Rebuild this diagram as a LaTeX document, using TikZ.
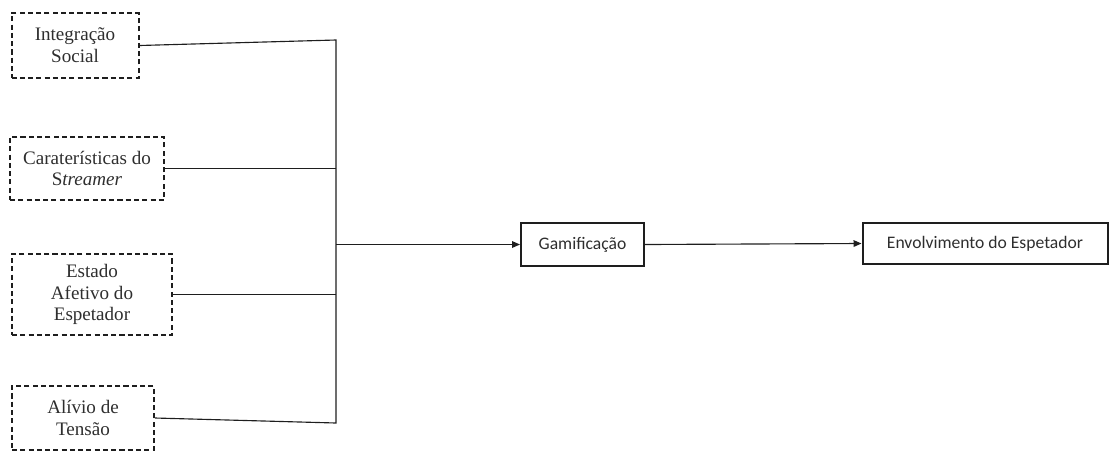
\documentclass[tikz,border=0pt]{standalone}
\usepackage{fontspec}
\setmainfont{Liberation Serif}
\newfontfamily\calibri{Carlito}
\usetikzlibrary{arrows.meta}
\definecolor{txt}{HTML}{2E2E2E}
\definecolor{ln}{HTML}{1E1E1E}
\tikzset{
  dbox/.style={draw=ln, line width=1.5pt, dash pattern=on 3.8pt off 2.4pt, align=center, inner sep=0pt,
    text=txt, font=\fontsize{14.3}{16.4}\selectfont},
  sbox/.style={draw=ln, line width=1.5pt, align=center, inner sep=0pt, text=txt,
    font=\calibri\fontsize{13.2}{15}\selectfont},
  conn/.style={draw=ln, line width=0.85pt},
  arr/.style={conn, -{Triangle[length=6pt,width=5pt]}}
}
\begin{document}
\begin{tikzpicture}[x=0.75pt,y=-0.75pt]
\useasboundingbox (0,0) rectangle (1109,451);
\node[dbox, minimum width=95.25pt, minimum height=48.75pt] (b1) at (75,45.5) {Integração\\Social};
\node[dbox, minimum width=115.5pt, minimum height=47.25pt] (b2) at (87,168.5) {Caraterísticas do\\S\textit{treamer}};
\node[dbox, minimum width=120pt, minimum height=60.75pt] (b3) at (92,294.5) {Estado\\Afetivo do\\Espetador};
\node[dbox, minimum width=106.5pt, minimum height=48pt] (b4) at (83,418) {Alívio de\\Tensão};
\node[sbox, minimum width=92.25pt, minimum height=32.25pt] (gam) at (582.5,244.5) {Gami{f}icação};
\node[sbox, minimum width=183.75pt, minimum height=30.75pt] (env) at (985,243.5) {Envolvimento do Espetador};
\coordinate (j1) at (336,40);
\coordinate (j4) at (336,423);
\draw[conn] (b1.east) -- (j1) -- (j4) -- (b4.east);
\draw[conn] (b2.east) -- (b2.east -| j1);
\draw[conn] (b3.east) -- (b3.east -| j1);
\draw[arr] (j1 |- gam.west) -- (gam.west);
\draw[arr] (gam.east) -- (env.west);
\end{tikzpicture}
\end{document}
